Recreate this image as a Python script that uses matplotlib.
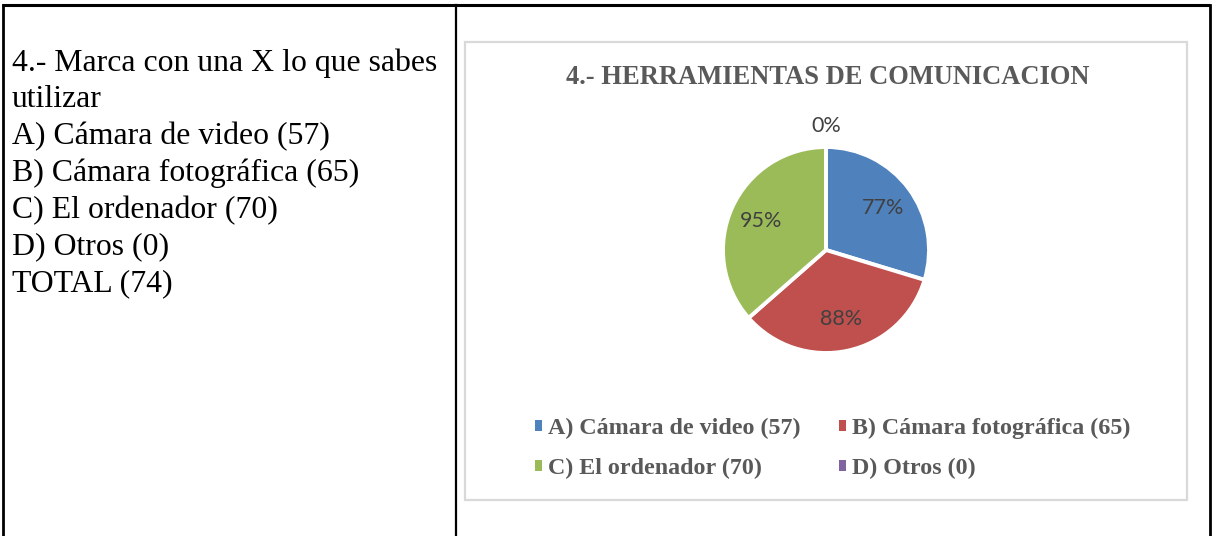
import numpy as np
import matplotlib
matplotlib.use("Agg")
import matplotlib.pyplot as plt
from matplotlib.patches import Patch

# ---- data ----
categories = ["A) Cámara de video (57)", "B) Cámara fotográfica (65)",
              "C) El ordenador (70)", "D) Otros (0)"]
values = [57, 65, 70, 0]
total = 74
colors = ["#4F81BD", "#C0504D", "#9BBB59", "#8064A2"]
question_lines = ["4.- Marca con una X lo que sabes", "utilizar",
                  "A) Cámara de video (57)", "B) Cámara fotográfica (65)",
                  "C) El ordenador (70)", "D) Otros (0)", "TOTAL (74)"]
chart_title = "4.- HERRAMIENTAS DE COMUNICACION"

W, H = 1212, 536
fig = plt.figure(figsize=(W / 100, H / 100), dpi=100)
fig.patch.set_facecolor("white")

# background axes in pixel coordinates
bg = fig.add_axes([0, 0, 1, 1])
bg.set_xlim(0, W)
bg.set_ylim(H, 0)
bg.axis("off")

# table borders
bg.plot([2, 1210], [5, 5], color="black", lw=2.2, solid_capstyle="butt")
bg.plot([2.5, 2.5], [5, H], color="black", lw=2.0)
bg.plot([455.5, 455.5], [5, H], color="black", lw=1.6)
bg.plot([1209.5, 1209.5], [5, H], color="black", lw=2.0)

# chart box
bg.add_patch(plt.Rectangle((465, 42), 722, 458, fill=False,
                           edgecolor="#D9D9D9", lw=1.6))

# left-cell text
for i, line in enumerate(question_lines):
    bg.text(12, 63 + i * 36.8, line, fontsize=22.9, family="Liberation Serif",
            color="black", va="center", ha="left")

# chart title
bg.text(828, 78, chart_title, fontsize=19.1, family="Liberation Serif",
        fontweight="bold", color="#595959", ha="center", va="center")

# pie
cx, cy, r = 826, 250, 103
pax = fig.add_axes([(cx - r) / W, (H - cy - r) / H, 2 * r / W, 2 * r / H])
wedges, _ = pax.pie(values, colors=colors, startangle=90, counterclock=False,
                    radius=1.0,
                    wedgeprops=dict(edgecolor="white", linewidth=2.8))
pax.set_xlim(-1, 1)
pax.set_ylim(-1, 1)
pax.set_aspect("equal")
pax.axis("off")

for w, v in zip(wedges, values):
    ang = np.deg2rad((w.theta1 + w.theta2) / 2)
    dist = 0.69 if v > 0 else 1.2
    pct = f"{round(v / total * 100)}%"
    pax.text(dist * np.cos(ang), dist * np.sin(ang), pct, ha="center",
             va="center", fontsize=15.5, family="Lato", color="#404040",
             clip_on=False)

# legend (row-major order: A B / C D)
handles = [Patch(facecolor=w.get_facecolor(), edgecolor="none") for w in wedges]
order = [0, 2, 1, 3]
fig.legend([handles[i] for i in order], [categories[i] for i in order],
           ncol=2, loc="upper left",
           bbox_to_anchor=(535 / W, 1 - 418 / H), frameon=False, borderpad=0,
           borderaxespad=0,
           prop=dict(family="Liberation Serif", weight="bold", size=17.3),
           labelcolor="#595959", handlelength=0.3, handleheight=0.3,
           handletextpad=0.25, columnspacing=1.6, labelspacing=0.78)

fig.savefig("out.png", dpi=100, facecolor="white")
